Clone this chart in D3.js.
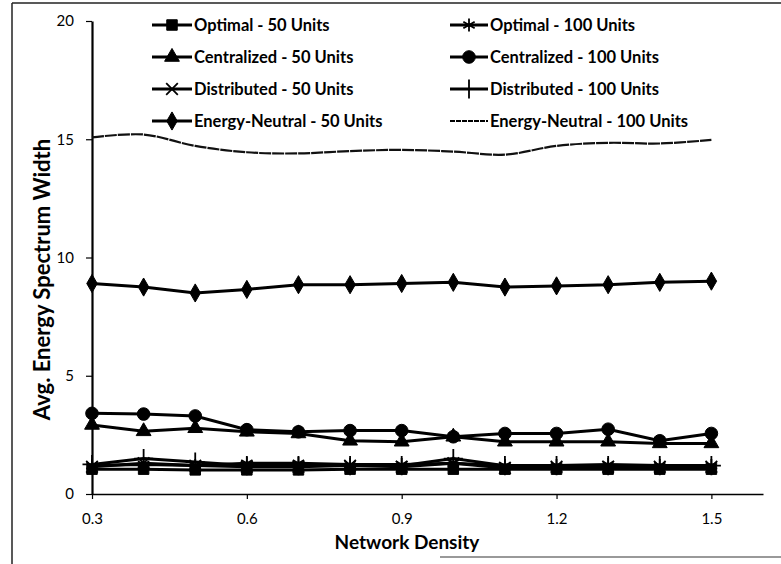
<!DOCTYPE html>
<html>
<head>
<meta charset="utf-8">
<script src="https://cdn.jsdelivr.net/npm/d3@7"></script>
<style>
  html, body { margin: 0; padding: 0; background: #fff; }
  svg { display: block; }
  text { font-family: Lato, "Open Sans", "DejaVu Sans", sans-serif; fill: #000; }
</style>
</head>
<body>
<svg id="chart" width="781" height="564"></svg>
<script>
// Network density values on the x axis
const density = [0.3, 0.4, 0.5, 0.6, 0.7, 0.8, 0.9, 1.0, 1.1, 1.2, 1.3, 1.4, 1.5];

// Average energy spectrum width per scheme and deployment size
const optimal50        = [1.05, 1.05, 1.02, 1.02, 1.02, 1.05, 1.05, 1.05, 1.05, 1.05, 1.05, 1.05, 1.05];
const optimal100       = [1.2, 1.25, 1.2, 1.3, 1.3, 1.25, 1.25, 1.3, 1.2, 1.2, 1.25, 1.2, 1.2];
const centralized50    = [2.92, 2.65, 2.78, 2.63, 2.56, 2.25, 2.21, 2.42, 2.21, 2.21, 2.21, 2.14, 2.14];
const centralized100   = [3.41, 3.38, 3.3, 2.72, 2.63, 2.68, 2.68, 2.42, 2.56, 2.56, 2.74, 2.25, 2.56];
const distributed50    = [1.15, 1.3, 1.2, 1.15, 1.15, 1.2, 1.15, 1.3, 1.1, 1.15, 1.15, 1.15, 1.15];
const distributed100   = [1.25, 1.5, 1.35, 1.2, 1.2, 1.2, 1.2, 1.5, 1.2, 1.2, 1.2, 1.2, 1.2];
const energyNeutral50  = [8.9, 8.75, 8.5, 8.65, 8.85, 8.85, 8.9, 8.95, 8.75, 8.8, 8.85, 8.95, 9.0];
const energyNeutral100 = [15.08, 15.2, 14.72, 14.45, 14.4, 14.5, 14.55, 14.48, 14.35, 14.72, 14.85, 14.82, 14.97];

// Axis ticks
const xTicks = [0.3, 0.6, 0.9, 1.2, 1.5];
const yTicks = [0, 5, 10, 15, 20];

const seriesNames = [
  "Optimal - 50 Units", "Optimal - 100 Units",
  "Centralized - 50 Units", "Centralized - 100 Units",
  "Distributed - 50 Units", "Distributed - 100 Units",
  "Energy-Neutral - 50 Units", "Energy-Neutral - 100 Units"
];
const seriesValues = [
  optimal50, optimal100, centralized50, centralized100,
  distributed50, distributed100, energyNeutral50, energyNeutral100
];
const seriesMarkers = ["square", "asterisk", "triangle", "circle", "times", "plus", "diamond", "none"];

const svg = d3.select("#chart");

const x = d3.scaleLinear().domain([0.3, 1.6]).range([92, 763]);
const y = d3.scaleLinear().domain([0, 20]).range([494, 21]);

// Frame around the figure
const frame = svg.append("g").attr("stroke", "#222").attr("fill", "none");
frame.append("line").attr("x1", 12).attr("y1", 3).attr("x2", 781).attr("y2", 3).attr("stroke-width", 1.5);
frame.append("line").attr("x1", 12).attr("y1", 3).attr("x2", 12).attr("y2", 564).attr("stroke-width", 1.5);
frame.append("line").attr("x1", 440).attr("y1", 557).attr("x2", 781).attr("y2", 557).attr("stroke", "#777").attr("stroke-width", 1.5);

// Axes
const xAxis = svg.append("g")
  .attr("transform", `translate(0,${y(0)})`)
  .call(d3.axisBottom(x).tickValues(xTicks).tickSize(5).tickSizeOuter(0)
    .tickFormat(d3.format(".1f")));
xAxis.select(".domain").attr("stroke", "#000").attr("stroke-width", 1.5);
xAxis.selectAll(".tick line").attr("stroke", "#000").attr("stroke-width", 1.2);
xAxis.selectAll(".tick text")
  .attr("y", 19)
  .attr("font-size", 15)
  .style("font-family", "Lato, 'Open Sans', sans-serif");

const yAxis = svg.append("g")
  .attr("transform", `translate(${x(0.3)},0)`)
  .call(d3.axisLeft(y).tickValues(yTicks).tickSize(6).tickSizeOuter(0).tickPadding(12));
yAxis.select(".domain").attr("stroke", "#000").attr("stroke-width", 2.2);
yAxis.selectAll(".tick line").attr("stroke", "#000").attr("stroke-width", 1.2);
yAxis.selectAll(".tick text")
  .attr("font-size", 15)
  .style("font-family", "Lato, 'Open Sans', sans-serif");

// Axis titles
svg.append("text")
  .attr("transform", `translate(50,${(y(0) + y(20)) / 2 + 22}) rotate(-90)`)
  .attr("text-anchor", "middle")
  .attr("font-size", 22)
  .attr("font-weight", "bold")
  .text("Avg. Energy Spectrum Width");

svg.append("text")
  .attr("x", 407)
  .attr("y", 549)
  .attr("text-anchor", "middle")
  .attr("font-size", 19)
  .attr("font-weight", "bold")
  .text("Network Density");

// Marker drawing
const symbolFor = {
  square:   { type: d3.symbolSquare,   size: 110, fill: true },
  triangle: { type: d3.symbolTriangle, size: 95,  fill: true },
  circle:   { type: d3.symbolCircle,   size: 125, fill: true },
  diamond:  { type: d3.symbolDiamond,  size: 95,  fill: true },
  asterisk: { type: d3.symbolAsterisk, size: 120, fill: false },
  times:    { type: d3.symbolTimes,    size: 90,  fill: false },
  plus:     { type: d3.symbolPlus,     size: 120, fill: false }
};

function drawMarker(g, kind, cx, cy) {
  const s = symbolFor[kind];
  if (!s) return;
  g.append("path")
    .attr("transform", `translate(${cx},${cy})`)
    .attr("d", d3.symbol().type(s.type).size(s.size)())
    .attr("fill", s.fill ? "#000" : "none")
    .attr("stroke", "#000")
    .attr("stroke-width", s.fill ? 1 : 1.8);
}

const lineStraight = d3.line().x((d, i) => x(density[i])).y(d => y(d));
const lineSmooth = d3.line().x((d, i) => x(density[i])).y(d => y(d)).curve(d3.curveCatmullRom.alpha(0.5));

const plot = svg.append("g");
seriesValues.forEach((vals, k) => {
  const kind = seriesMarkers[k];
  const g = plot.append("g");
  if (kind === "none") {
    g.append("path")
      .attr("d", lineSmooth(vals))
      .attr("fill", "none")
      .attr("stroke", "#111")
      .attr("stroke-width", 2.2)
      .attr("stroke-dasharray", "12 1");
  } else {
    g.append("path")
      .attr("d", lineStraight(vals))
      .attr("fill", "none")
      .attr("stroke", "#000")
      .attr("stroke-width", 3);
    vals.forEach((v, i) => drawMarker(g, kind, x(density[i]), y(v)));
  }
});

// Legend: two columns, four rows
const legendCols = [{ x0: 152, x1: 192, tx: 194 }, { x0: 450, x1: 488, tx: 490 }];
const legendRows = [25, 57, 89, 121];
const legend = svg.append("g");
seriesNames.forEach((name, k) => {
  const col = legendCols[k % 2];
  const ry = legendRows[Math.floor(k / 2)];
  const kind = seriesMarkers[k];
  const g = legend.append("g");
  g.append("line")
    .attr("x1", col.x0).attr("x2", col.x1)
    .attr("y1", ry).attr("y2", ry)
    .attr("stroke", "#000")
    .attr("stroke-width", kind === "none" ? 2.2 : 3)
    .attr("stroke-dasharray", kind === "none" ? "5 1" : null);
  drawMarker(g, kind, (col.x0 + col.x1) / 2, ry);
  g.append("text")
    .attr("x", col.tx)
    .attr("y", ry)
    .attr("dy", "0.36em")
    .attr("font-size", 16.5)
    .attr("font-weight", "bold")
    .text(name);
});
</script>
</body>
</html>
